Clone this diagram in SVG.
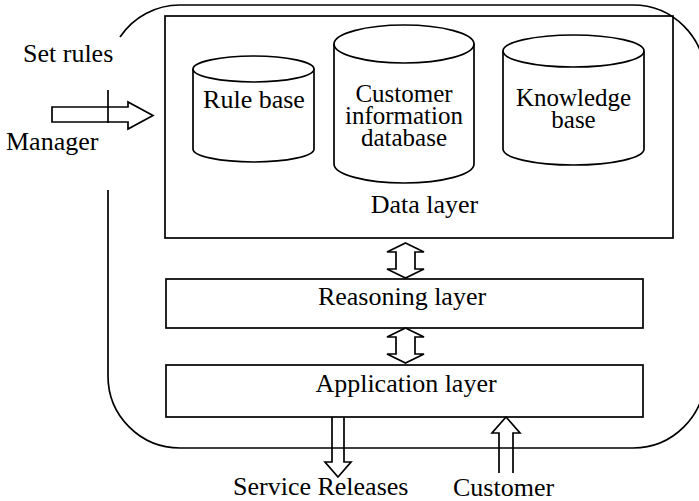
<svg xmlns="http://www.w3.org/2000/svg" width="699" height="501" viewBox="0 0 699 501">
<style>
.s{fill:none;stroke:#000;stroke-width:1.7}
text{font-family:"Liberation Serif","Times New Roman",serif;font-size:26px;fill:#000}
.m{font-size:25px}
.c{text-anchor:middle}
</style>
<rect width="699" height="501" fill="#fff"/>
<g id="frame">
<path class="s" d="M120,37 A72,72 0 0 1 180,5 L633,5 A72,72 0 0 1 705,77 L705,376 A72,72 0 0 1 633,448 L180,448 A72,72 0 0 1 108,376 L108,190"/>
<path class="s" d="M108,90 L108,123"/>
</g>
<g id="data-layer">
<rect class="s" x="165" y="16" width="508" height="222"/>
<text class="c" x="424.5" y="213">Data layer</text>
</g>
<g id="rule-base">
<path class="s" d="M193,69 L193,149 A60.5,13 0 0 0 314,149 L314,69"/>
<ellipse class="s" cx="253.5" cy="69" rx="60.5" ry="13"/>
<text class="c" x="254" y="108">Rule base</text>
</g>
<g id="customer-db">
<path class="s" d="M334,44 L334,164 A70,19 0 0 0 474,164 L474,44"/>
<ellipse class="s" cx="404" cy="44" rx="70" ry="19"/>
<text class="c m" x="404" y="102">Customer</text>
<text class="c m" x="404" y="124">information</text>
<text class="c m" x="404" y="146">database</text>
</g>
<g id="knowledge-base">
<path class="s" d="M503,51 L503,149 A70.5,16 0 0 0 644,149 L644,51"/>
<ellipse class="s" cx="573.5" cy="51" rx="70.5" ry="16"/>
<text class="c m" x="573.5" y="106">Knowledge</text>
<text class="c m" x="573.5" y="128">base</text>
</g>
<g id="reasoning-layer">
<rect class="s" x="166" y="279" width="477" height="49"/>
<text class="c" x="402" y="305">Reasoning layer</text>
</g>
<g id="application-layer">
<rect class="s" x="166" y="365" width="477" height="52"/>
<text class="c" x="406" y="392">Application layer</text>
</g>
<g id="labels">
<text x="23" y="62">Set rules</text>
<text x="6" y="150">Manager</text>
<text x="233" y="495">Service Releases</text>
<text x="453" y="496">Customer</text>
</g>
<g id="connectors">
<path class="s" d="M52,107 L128,107 L128,102 L153,115.5 L128,129 L128,122 L52,122 Z"/>
<path class="s" d="M405.5,243 L424,252 L415,252 L415,269 L424,269 L405.5,278 L387,269 L396,269 L396,252 L387,252 Z"/>
<path class="s" d="M405.5,328 L424,337 L415,337 L415,354 L424,354 L405.5,363 L387,354 L396,354 L396,337 L387,337 Z"/>
<path class="s" d="M332,417 L332,462 L325,462 L338,477 L351,462 L344,462 L344,417"/>
<path class="s" d="M499,473 L499,433 L492,433 L506,417 L520,433 L513,433 L513,473"/>
</g>
</svg>
